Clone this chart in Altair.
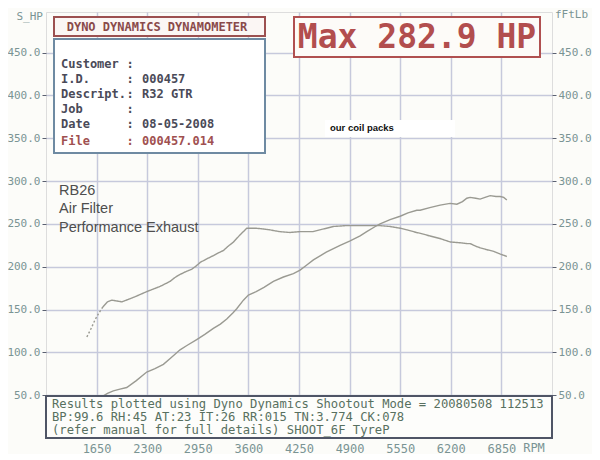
import altair as alt
import pandas as pd

# ---------------- data ----------------
rpm_torque = [1525, 1580, 1630, 1680, 1730, 1790, 1845, 1910, 1975, 2060, 2145, 2220,
              2295, 2380, 2465, 2530, 2595, 2650, 2700, 2790, 2870, 2930, 2980, 3060,
              3150, 3210, 3280, 3340, 3410, 3490, 3580, 3700, 3800, 3880, 4000, 4135,
              4260, 4430, 4560, 4690, 4850, 4995, 5120, 5290, 5420, 5550, 5640, 5760,
              5810, 5930, 6060, 6190, 6320, 6410, 6450, 6520, 6580, 6660, 6750, 6830, 6920]
torque = [118, 128, 138, 146, 153, 159, 161, 160, 159, 162, 165, 168,
          171, 174, 177, 180, 183, 187, 190, 194, 197, 201, 205, 209,
          213, 216, 219, 224, 229, 237, 245, 245, 244, 243, 241, 240,
          241, 241, 244, 247, 248, 248, 248, 248, 247, 245, 243, 240,
          239, 236, 233, 229, 228, 227, 227, 224, 222, 220, 218, 215, 212]

rpm_power = [1560, 1716, 1790, 1865, 1950, 2037, 2160, 2294, 2400, 2508, 2610, 2722,
             2810, 2936, 3040, 3150, 3240, 3322, 3400, 3450, 3536, 3600, 3700, 3800,
             3921, 4050, 4178, 4264, 4350, 4435, 4600, 4778, 4900, 5035, 5120, 5230,
             5292, 5420, 5549, 5650, 5763, 5806, 5930, 6063, 6191, 6278, 6350, 6406,
             6448, 6520, 6577, 6640, 6706, 6780, 6834, 6880, 6920]
power = [38, 48, 52, 55, 57, 59, 67, 77, 81, 86, 94, 103,
         108, 115, 121, 128, 133, 139, 146, 151, 161, 167, 171, 176,
         183, 188, 192, 196, 202, 208, 217, 225, 230, 236, 241, 247,
         250, 255, 259, 263, 266, 266, 269, 272, 274, 273, 276, 280,
         281, 280, 279, 281, 283, 282, 282, 281, 278]

x_ticks = [1650, 2300, 2950, 3600, 4250, 4900, 5550, 6200, 6850]
y_ticks = [50, 100, 150, 200, 250, 300, 350, 400, 450]

info_labels = ["Customer", "I.D.", "Descript.", "Job", "Date", "File"]
info_values = ["", "000457", "R32 GTR", "", "08-05-2008", "000457.014"]
notes = ["RB26", "Air Filter", "Performance Exhaust"]
footer = ["Results plotted using Dyno Dynamics Shootout Mode = 20080508 112513",
          "BP:99.6  RH:45 AT:23 IT:26  RR:015 TN:3.774 CK:078",
          "(refer manual for full details) SHOOT_6F TyreP"]

# ---------------- styling ----------------
W, H = 506, 426
MONO = "DejaVu Sans Mono"
SANS = "Liberation Sans"
AXIS_COL = "#7a9494"
LINE_COL = "#9a9a92"
GRID_COL = "#c6c9dc"

xs = alt.Scale(domain=[1000, 7500], nice=False, zero=False)
ys = alt.Scale(domain=[0, 497.5], nice=False, zero=False)

# torque: the first few points are drawn dotted in the reference
n_dash = 5
tq = pd.DataFrame({
    "rpm": rpm_torque[:n_dash] + rpm_torque[n_dash - 1:],
    "val": torque[:n_dash] + torque[n_dash - 1:],
    "seg": ["dash"] * n_dash + ["solid"] * (len(rpm_torque) - n_dash + 1),
})
pw = pd.DataFrame({"rpm": rpm_power, "val": power})

x_axis = alt.Axis(values=x_ticks, format="d", grid=True, gridColor=GRID_COL,
                  gridWidth=1.5, ticks=False, domain=False, labelFont=MONO,
                  labelFontSize=12, labelColor=AXIS_COL, labelPadding=5,
                  title=None, labelFlush=False)
yl_axis = alt.Axis(values=y_ticks, format=".1f", grid=True, gridColor=GRID_COL,
                   gridWidth=1.5, ticks=True, tickSize=4, tickColor="#5a6070",
                   domain=False, labelFont=MONO, labelFontSize=11,
                   labelColor=AXIS_COL, labelPadding=2, title=None)
yr_axis = alt.Axis(values=y_ticks, format=".1f", grid=False, orient="right",
                   ticks=True, tickSize=4, tickColor="#5a6070", domain=False,
                   labelFont=MONO, labelFontSize=11, labelColor=AXIS_COL,
                   labelPadding=2, title=None)

torque_line = alt.Chart(tq).mark_line(color=LINE_COL, strokeWidth=1.4).encode(
    x=alt.X("rpm:Q", scale=xs, axis=x_axis),
    y=alt.Y("val:Q", scale=ys, axis=yl_axis),
    strokeDash=alt.StrokeDash("seg:N", legend=None,
                              scale=alt.Scale(domain=["dash", "solid"],
                                              range=[[2, 2], [1, 0]])),
)
power_line = alt.Chart(pw).mark_line(color=LINE_COL, strokeWidth=1.4).encode(
    x=alt.X("rpm:Q", scale=xs, axis=x_axis),
    y=alt.Y("val:Q", scale=ys, axis=yr_axis))

lines = alt.layer(torque_line, power_line).resolve_axis(y="independent")

one = pd.DataFrame({"k": [0]})


def box(x, y, x2, y2, stroke, fill, sw=2):
    return alt.Chart(one).mark_rect(stroke=stroke, fill=fill, strokeWidth=sw).encode(
        x=alt.value(x), x2=alt.value(x2), y=alt.value(y), y2=alt.value(y2))


def txt(s, x, y, **kw):
    return alt.Chart(pd.DataFrame({"t": [s]})).mark_text(
        baseline="middle", **kw).encode(
        text="t:N", x=alt.value(x), y=alt.value(y))


layers = []

# title box
layers.append(box(8, 5, 219, 24, "#9c5050", "#fbf6f4"))
layers.append(txt("DYNO DYNAMICS DYNAMOMETER", 111, 14.5, align="center",
                  font=MONO, fontSize=12, fontWeight="bold", color="#8a4a4a"))
# info box
layers.append(box(8, 27, 219, 141, "#6e8aa2", "#ffffff"))
info_y = [52, 67, 82, 97, 112, 129]
for lab, val, yy in zip(info_labels, info_values, info_y):
    col = "#a05050" if lab == "File" else "#4a4a58"
    layers.append(txt(lab, 15, yy, align="left", font=MONO, fontSize=12,
                      fontWeight="bold", color=col))
    layers.append(txt(":", 84, yy, align="center", font=MONO, fontSize=12,
                      fontWeight="bold", color=col))
    if val:
        layers.append(txt(val, 96, yy, align="left", font=MONO, fontSize=12,
                          fontWeight="bold", color=col))

# max box
layers.append(box(248, 5, 494, 45, "#b05050", "#fdfbf8"))
layers.append(txt("Max 282.9 HP", 371, 26, align="center", font=MONO,
                  fontSize=33, fontWeight="bold", color="#b24e4e"))

# notes
for s, yy in zip(notes, [179, 197, 216]):
    layers.append(txt(s, 13, yy, align="left", font=SANS, fontSize=14.5,
                      color="#4e4e4e"))
layers.append(box(279, 108, 409, 125, "#ffffff", "#ffffff", 0))
layers.append(txt("our coil packs", 284, 116, align="left", font=SANS,
                  fontSize=9.5, fontWeight="bold", color="#111111"))

# footer box
layers.append(box(0, 384, 506, 426, "#4f5566", "#fdfdfb"))
for s, yy in zip(footer, [391.5, 404.5, 417.5]):
    layers.append(txt(s, 6, yy, align="left", font=MONO, fontSize=12.2,
                      color="#587060"))

# axis titles
layers.append(txt("S_HP", -3, 5, align="right", font=MONO, fontSize=11,
                  color=AXIS_COL))
layers.append(txt("fFtLb", 509, 3, align="left", font=MONO, fontSize=11,
                  color=AXIS_COL))
layers.append(txt("RPM", 488, 435.5, align="center", font=MONO, fontSize=12,
                  color=AXIS_COL))

chart = alt.layer(lines, *layers).properties(
    width=W, height=H,
    autosize=alt.AutoSizeParams(type="none"),
    padding={"left": 38, "top": 4, "right": 40, "bottom": 16},
).configure_view(
    stroke="#4f5566", strokeWidth=2, fill="#fbfbee"
).configure(background="#fcfcf9")

chart.save("out.html", embed_options={"renderer": "svg", "actions": False})
